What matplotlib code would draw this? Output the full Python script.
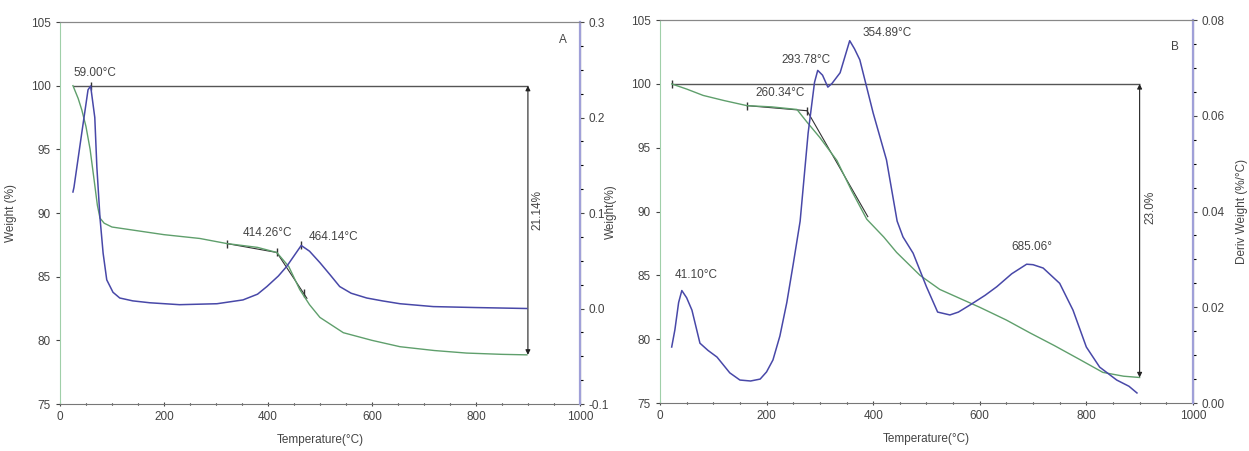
import numpy as np
import matplotlib.pyplot as plt
from matplotlib.ticker import MultipleLocator, FormatStrFormatter

plt.rcParams['font.family'] = ['Liberation Sans', 'DejaVu Sans']

# ---- panel A : weight (left axis) and derivative (right axis)
tA_w = [25, 35, 42, 50, 58, 66, 72, 77, 85, 100, 150, 200, 269, 321, 380, 417,
        440, 461, 480, 500, 545, 600, 654, 720, 782, 850, 898]
wA = [100.0, 99.0, 98.1, 96.8, 95.0, 92.5, 90.6, 89.6, 89.2, 88.9, 88.6, 88.3,
      88.0, 87.6, 87.3, 86.9, 85.8, 84.0, 82.8, 81.8, 80.6, 80.0, 79.5, 79.2,
      79.0, 78.9, 78.86]
tA_d = [25, 27, 42, 54, 59, 67, 71, 77, 83, 90, 102, 115, 140, 173, 230, 302,
        352, 380, 398, 420, 436, 450, 464, 480, 500, 520, 538, 560, 590, 620,
        654, 718, 800, 898]
dA = [0.122, 0.127, 0.184, 0.229, 0.233, 0.200, 0.148, 0.095, 0.058, 0.030,
      0.017, 0.011, 0.008, 0.006, 0.004, 0.005, 0.009, 0.015, 0.023, 0.034,
      0.044, 0.055, 0.066, 0.060, 0.048, 0.035, 0.023, 0.016, 0.011, 0.008,
      0.005, 0.002, 0.001, 0.0]

# ---- panel B
tB_w = [22, 50, 81, 120, 163, 210, 257, 276, 300, 332, 360, 388, 420, 444, 488,
        525, 600, 650, 694, 740, 788, 831, 870, 900]
wB = [100.0, 99.6, 99.1, 98.7, 98.3, 98.2, 98.0, 97.0, 95.8, 94.0, 91.6, 89.4,
      88.0, 86.8, 85.0, 83.9, 82.5, 81.5, 80.5, 79.5, 78.4, 77.4, 77.1, 77.0]
tB_d = [22, 28, 35, 41, 50, 60, 75, 90, 107, 131, 150, 170, 188, 200, 212, 225,
        238, 250, 263, 278, 290, 296, 305, 315, 323, 338, 356, 365, 375, 400,
        425, 445, 456, 475, 500, 521, 544, 560, 582, 610, 632, 660, 688, 700,
        719, 750, 775, 800, 825, 857, 880, 895]
dB = [0.0117, 0.0153, 0.021, 0.0235, 0.022, 0.0194, 0.0125, 0.011, 0.0096,
      0.0063, 0.0048, 0.0046, 0.005, 0.0065, 0.009, 0.014, 0.021, 0.029, 0.038,
      0.0564, 0.067, 0.0695, 0.0685, 0.066, 0.0668, 0.069, 0.0757, 0.074,
      0.0717, 0.0606, 0.0508, 0.038, 0.0347, 0.0313, 0.0243, 0.019, 0.0184,
      0.019, 0.0205, 0.0225, 0.0243, 0.027, 0.029, 0.0289, 0.0282, 0.025,
      0.0194, 0.0117, 0.0075, 0.0048, 0.0035, 0.0021]

GREEN = '#5f9f6c'
BLUE = '#4848a8'
TXT = '#444444'

fig = plt.figure(figsize=(12.49, 4.51), dpi=100)


def style(ax, ax2, dlim, dmajor, dminor, dfmt):
    ax.set_xlim(0, 1000)
    ax.set_ylim(75, 105)
    ax.xaxis.set_major_locator(MultipleLocator(200))
    ax.xaxis.set_minor_locator(MultipleLocator(50))
    ax.yaxis.set_major_locator(MultipleLocator(5))
    ax2.set_ylim(*dlim)
    ax2.yaxis.set_major_locator(MultipleLocator(dmajor))
    ax2.yaxis.set_minor_locator(MultipleLocator(dminor))
    ax2.yaxis.set_major_formatter(FormatStrFormatter(dfmt))
    for a in (ax, ax2):
        a.tick_params(labelsize=8.5, colors=TXT, length=3, width=0.8)
        a.tick_params(which='minor', length=2, width=0.8)
    ax.tick_params(axis='x', which='both', direction='inout')
    ax.spines['left'].set_color('#9fcfa8')
    ax2.spines['left'].set_visible(False)
    ax2.spines['right'].set_color('#a0a0d8')
    ax2.spines['right'].set_linewidth(1.6)
    ax.spines['top'].set_color('#888888')
    ax2.spines['top'].set_color('#888888')
    ax.spines['bottom'].set_color('#777777')
    ax2.spines['bottom'].set_visible(False)
    ax.set_xlabel('Temperature(°C)', fontsize=8.5, color=TXT, labelpad=8)


def annot(ax, x, y, s, **kw):
    ax.text(x, y, s, fontsize=8.5, color=TXT, **kw)


# ---------------- A
ax = fig.add_axes([0.048, 0.1042, 0.4163, 0.847])
ax2 = ax.twinx()
style(ax, ax2, (-0.1, 0.3), 0.1, 0.025, '%.1f')
ax.plot(tA_w, wA, color=GREEN, lw=1.0, zorder=3)
ax2.plot(tA_d, dA, color=BLUE, lw=1.1, zorder=3)
ax.hlines(100, tA_w[0], 900, color='#555555', lw=1.0)
ax.annotate('', xy=(900, wA[-1]), xytext=(900, 100),
            arrowprops=dict(arrowstyle='<|-|>', color='#222222', lw=0.8,
                            mutation_scale=7, shrinkA=0, shrinkB=0))
ax.plot([321, 417], [87.6, 86.9], color='#333333', lw=0.8)
ax.plot([417, 475], [86.9, 83.3], color='#333333', lw=0.8)
ax.plot([321, 417, 470], [87.6, 86.9, 83.7], ls='none', marker='|',
        ms=6, color='#333333')
ax2.plot([59, 464], [0.233, 0.066], ls='none', marker='|', ms=6, color='#333333')
annot(ax, 26, 101.0, '59.00°C', va='center')
annot(ax, 400, 88.4, '414.26°C', ha='center', va='center')
annot(ax, 527, 88.1, '464.14°C', ha='center', va='center')
annot(ax, 967, 103.6, 'A', ha='center', va='center')
annot(ax, 918, 90.2, '21.14%', rotation=90, ha='center', va='center')
ax.set_ylabel('Weight (%)', fontsize=8.5, color=TXT, labelpad=10)

# ---------------- B
bx = fig.add_axes([0.5284, 0.1064, 0.4267, 0.849])
bx2 = bx.twinx()
style(bx, bx2, (0.0, 0.08), 0.02, 0.005, '%.2f')
bx.plot(tB_w, wB, color=GREEN, lw=1.0, zorder=3)
bx2.plot(tB_d, dB, color=BLUE, lw=1.1, zorder=3)
bx.hlines(100, tB_w[0], 900, color='#555555', lw=1.0)
bx.annotate('', xy=(900, wB[-1]), xytext=(900, 100),
            arrowprops=dict(arrowstyle='<|-|>', color='#222222', lw=0.8,
                            mutation_scale=7, shrinkA=0, shrinkB=0))
bx.plot([163, 276], [98.3, 97.9], color='#333333', lw=0.8)
bx.plot([276, 390], [97.9, 89.6], color='#333333', lw=0.8)
bx.plot([22, 163, 276], [100.0, 98.3, 97.9], ls='none', marker='|', ms=6,
        color='#333333')
annot(bx, 68, 85.0, '41.10°C', ha='center', va='center')
annot(bx, 226, 99.3, '260.34°C', ha='center', va='center')
annot(bx, 274, 101.9, '293.78°C', ha='center', va='center')
annot(bx, 426, 104.0, '354.89°C', ha='center', va='center')
annot(bx, 697, 87.2, '685.06°', ha='center', va='center')
annot(bx, 966, 102.9, 'B', ha='center', va='center')
annot(bx, 920, 90.3, '23.0%', rotation=90, ha='center', va='center')
bx.set_ylabel('Weight(%)', fontsize=8.5, color=TXT, labelpad=10)
bx2.set_ylabel('Deriv Weight (%/°C)', fontsize=8.5, color=TXT, labelpad=8)

fig.savefig('out.png', dpi=100)
